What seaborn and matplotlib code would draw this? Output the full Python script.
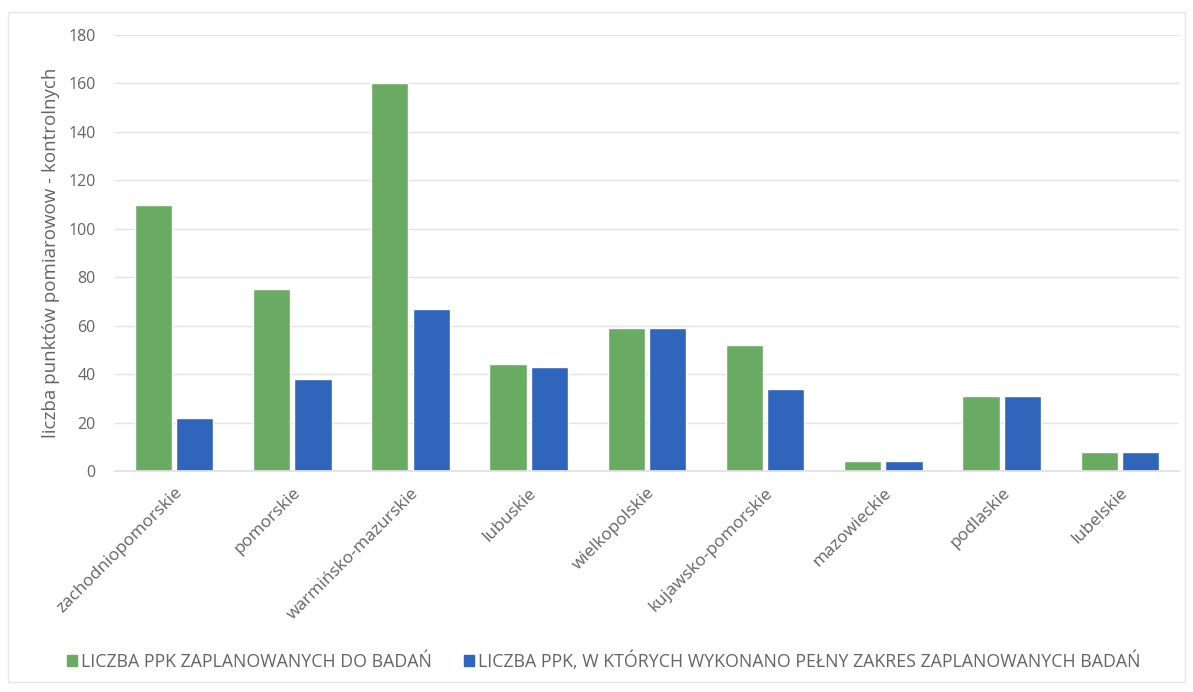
import matplotlib
matplotlib.use("Agg")
import matplotlib.pyplot as plt
import matplotlib.patches as mpatches
import seaborn as sns
import pandas as pd

regions = ["zachodniopomorskie", "pomorskie", "warmińsko-mazurskie", "lubuskie",
           "wielkopolskie", "kujawsko-pomorskie", "mazowieckie", "podlaskie", "lubelskie"]
planned = [110, 75, 160, 44, 59, 52, 4, 31, 8]
completed = [22, 38, 67, 43, 59, 34, 4, 31, 8]
series_names = ["LICZBA PPK ZAPLANOWANYCH DO BADAŃ",
                "LICZBA PPK, W KTÓRYCH WYKONANO PEŁNY ZAKRES ZAPLANOWANYCH BADAŃ"]
y_label = "liczba punktów pomiarowow - kontrolnych"

df = pd.DataFrame({
    "region": regions * 2,
    "value": planned + completed,
    "series": [series_names[0]] * len(regions) + [series_names[1]] * len(regions),
})

sns.set_theme(style="white")
plt.rcParams["font.family"] = ["Open Sans", "DejaVu Sans"]

green = "#6aab63"
blue = "#2f66bb"
text_col = "#646464"

fig = plt.figure(figsize=(11.93, 6.92), dpi=100)
ax = fig.add_axes([0.0964, 0.3194, 0.8918, 0.6300])

sns.barplot(data=df, x="region", y="value", hue="series", order=regions,
            hue_order=series_names, palette=[green, blue], width=0.70, gap=0.1,
            saturation=1, ax=ax, legend=False)

ax.set_ylim(0, 180)
ax.set_yticks(range(0, 181, 20))
ax.grid(axis="y", color="#e3e3e3", linewidth=1)
ax.set_axisbelow(True)
for s in ["top", "right", "left"]:
    ax.spines[s].set_visible(False)
ax.spines["bottom"].set_color("#e0e0e0")
ax.tick_params(axis="y", length=0, colors=text_col, labelsize=11.5, pad=14)
ax.tick_params(axis="x", length=0, colors=text_col, labelsize=12.5, pad=10)
plt.setp(ax.get_xticklabels(), rotation=45, ha="right", rotation_mode="anchor")
ax.set_xlabel("")
ax.set_ylabel(y_label, color=text_col, fontsize=13.5, labelpad=6)

handles = [mpatches.Patch(color=green, label=series_names[0]),
           mpatches.Patch(color=blue, label=series_names[1])]
fig.legend(handles=handles, loc="center", bbox_to_anchor=(0.506, 0.045), ncol=2,
           frameon=False, fontsize=12.8, labelcolor=text_col, handlelength=0.55,
           handleheight=0.55, handletextpad=0.25, columnspacing=1.8)

# light frame around the chart area
fig.patches.append(mpatches.Rectangle((0.007, 0.015), 0.986, 0.968, transform=fig.transFigure,
                                      fill=False, edgecolor="#e6e6e6", linewidth=1))

fig.savefig("out.png", dpi=100)
